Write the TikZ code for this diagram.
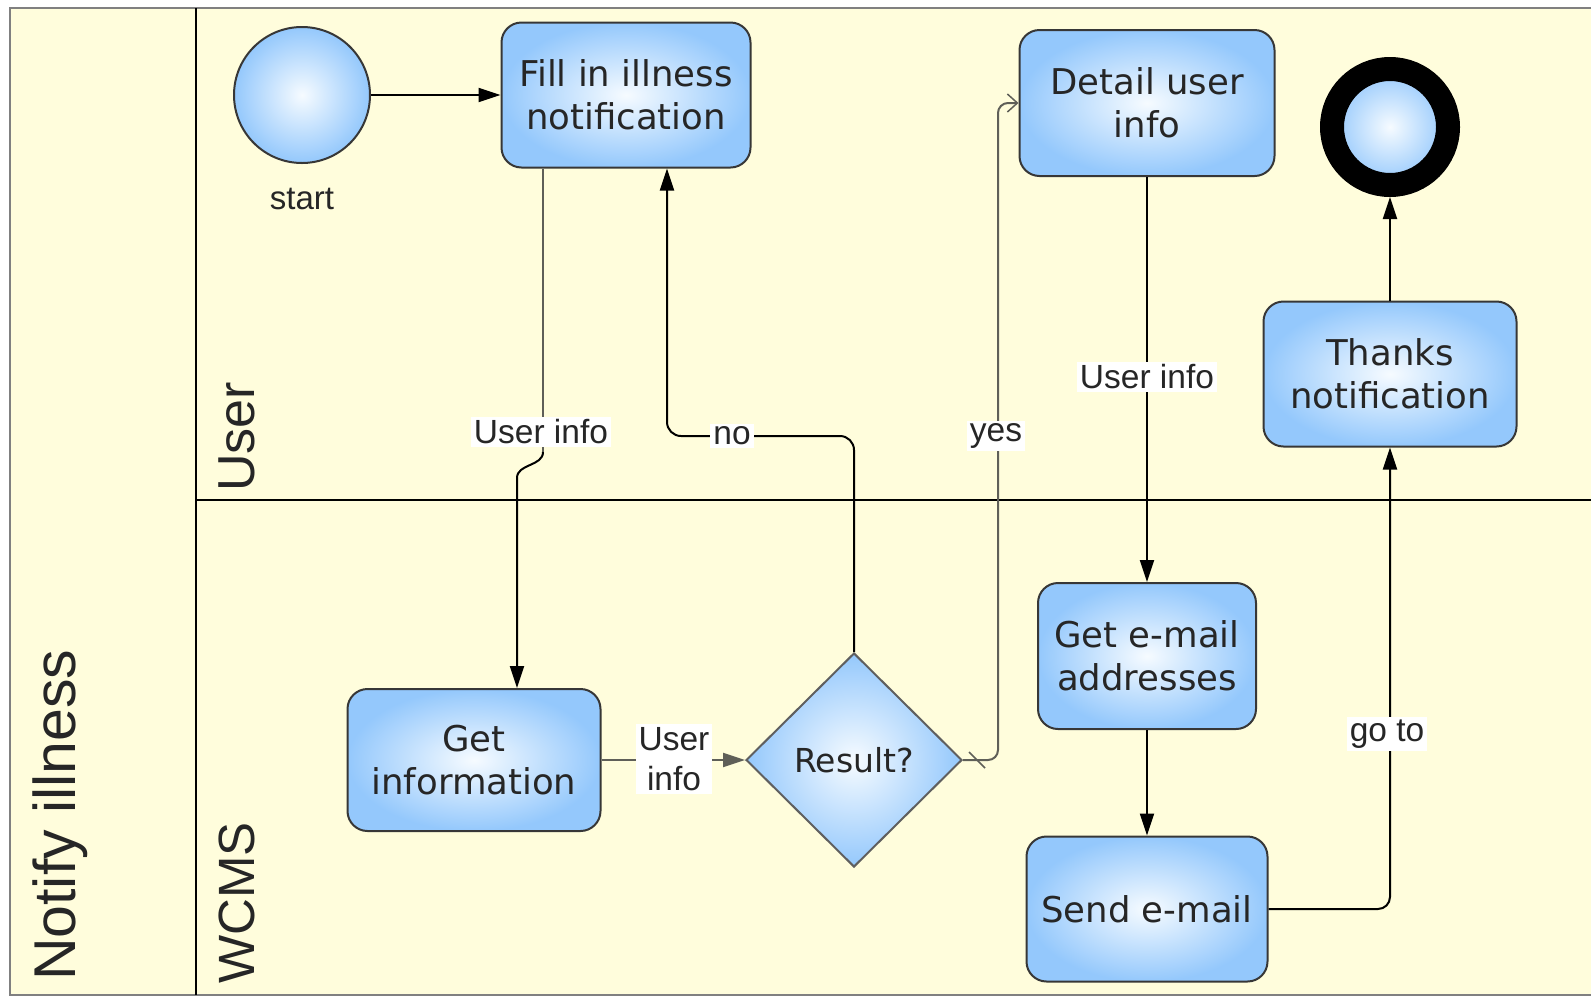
\documentclass[tikz,border=0pt]{standalone}
\usepackage{fontspec}
\setmainfont{DejaVu Sans}
\newfontfamily\lblfont{Liberation Sans}
\usetikzlibrary{shapes.geometric,arrows.meta,calc}

\definecolor{poolbg}{RGB}{255,253,220}
\definecolor{bpin}{RGB}{246,251,255}
\definecolor{bpout}{RGB}{148,200,252}
\definecolor{edgec}{RGB}{55,55,55}
\definecolor{flowgray}{RGB}{95,95,88}

\tikzset{
  task/.style={draw=edgec, line width=2pt, rounded corners=20pt,
    inner color=bpin, outer color=bpout, align=center, inner sep=0pt,
    font=\fontsize{35.5}{43}\selectfont, text=black!85},
  flow/.style={line width=2pt, -{Triangle[length=22pt,width=14pt]}},
  lbl/.style={fill=white, font=\lblfont\fontsize{33.5}{40}\selectfont,
    inner sep=3pt, align=center, text=black!85},
  lanelbl/.style={rotate=90, anchor=base west, inner sep=0pt, text=black!85},
}

\begin{document}
\begin{tikzpicture}[x=1pt,y=-1pt]
\useasboundingbox (0,0) rectangle (1591,997);
\fill[white] (0,0) rectangle (1591,997);

% pool and lanes
\fill[poolbg] (10,8) rectangle (1600,995);
\draw[line width=2.5pt, draw=gray] (1600,8) -- (10,8) -- (10,995) -- (1600,995);
\draw[line width=2pt] (196,8) -- (196,995);
\draw[line width=2pt] (196,500) -- (1600,500);

\node[lanelbl, font=\lblfont\fontsize{59}{68}\selectfont] (poolname) at (75,981) {Notify illness};
\node[lanelbl, font=\lblfont\fontsize{52}{60}\selectfont] (laneuser) at (254,492) {User};
\node[lanelbl, font=\lblfont\fontsize{51}{60}\selectfont] (lanewcms) at (254,984) {WCMS};

% events
\node[circle, draw=edgec, line width=2pt, inner color=bpin, outer color=bpout,
      minimum size=136pt, inner sep=0pt] (start) at (302,95) {};
\node[font=\lblfont\fontsize{33}{38}\selectfont, text=black!85] (startlbl) at (302,199) {start};
\node[circle, draw=black, line width=24pt, inner color=bpin, outer color=bpout,
      minimum size=116pt, inner sep=0pt, outer sep=12pt] (end) at (1390,127) {};

% activities
\node[task, minimum width=249pt, minimum height=145pt] (fill) at (626,95) {Fill in illness\\notification};
\node[task, minimum width=255pt, minimum height=146pt] (detail) at (1147,103) {Detail user\\info};
\node[task, minimum width=253pt, minimum height=145pt] (thanks) at (1390,374) {Thanks\\notification};
\node[task, minimum width=253pt, minimum height=142pt] (getinfo) at (474,760) {Get\\information};
\node[task, minimum width=218pt, minimum height=146pt] (getemail) at (1147,656) {Get e-mail\\addresses};
\node[task, minimum width=241pt, minimum height=145pt] (send) at (1147,909) {Send e-mail};

% gateway
\node[diamond, draw=edgec!80, line width=2pt, inner color=bpin, outer color=bpout,
      minimum width=216pt, minimum height=214pt, inner sep=0pt,
      font=\fontsize{33}{40}\selectfont, text=black!85] (result) at (854,760) {Result?};

% bend points
\coordinate (uiA) at (543,452);
\coordinate (uiB) at (517,478);
\coordinate (noB) at (667,436);
\coordinate (yesB) at (998,103);

% sequence flows
\draw[flow] (start) -- (fill);
\draw[line width=2pt, draw=flowgray] (fill.south -| uiA) -- (uiA);
\draw[flow] (uiA) to[out=-90,in=90] (uiB) -- (getinfo.north -| uiB);
\draw[flow, rounded corners=14pt] (result.north) |- (noB) -- (fill.south -| noB);
\draw[line width=2pt, draw=flowgray, rounded corners=10pt,
      -{Straight Barb[length=10pt,width=18pt,line width=1.5pt]}]
      (result.east) -| (yesB) -- (detail.west);
\draw[line width=1.5pt, draw=flowgray] ($(result.east)+(6,-8)$) -- ++(16,16);
\draw[flow, draw=flowgray] (getinfo.east) -- (result.west);
\draw[flow] (detail.south) -- (getemail.north);
\draw[flow] (getemail.south) -- (send.north);
\draw[flow, rounded corners=12pt] (send.east) -| (thanks.south);
\draw[flow] (thanks.north) -- (end.south);

% flow labels
\node[lbl] (lui1) at (541,432) {User info};
\node[lbl] (lno) at (732,436) {no};
\node[lbl] (lyes) at (996,436) {yes};
\node[lbl] (lui2) at (1147,377) {User info};
\node[lbl] (lui3) at (674,759) {User\\info};
\node[lbl] (lgoto) at (1387,734) {go to};
\end{tikzpicture}
\end{document}
